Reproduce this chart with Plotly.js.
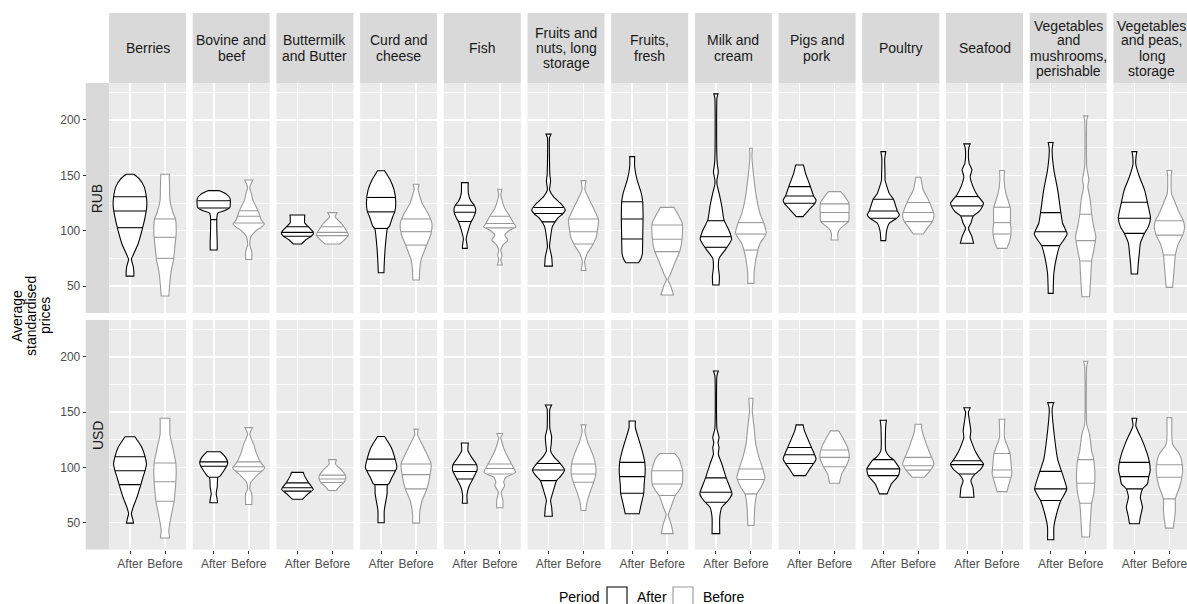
<!DOCTYPE html>
<html><head><meta charset="utf-8">
<script src="https://cdn.plot.ly/plotly-3.0.1.min.js"></script>
<style>html,body{margin:0;padding:0;background:#fff}#chart{width:1187px;height:604px}</style>
</head><body><div id="chart"></div>
<script>
// ---------------- data ----------------
const categories = ["Berries","Bovine and beef","Buttermilk and Butter","Curd and cheese","Fish",
  "Fruits and nuts, long storage","Fruits, fresh","Milk and cream","Pigs and pork","Poultry","Seafood",
  "Vegetables and mushrooms, perishable","Vegetables and peas, long storage"];
const stripLabels = ["Berries","Bovine and\nbeef","Buttermilk\nand Butter","Curd and\ncheese","Fish",
  "Fruits and\nnuts, long\nstorage","Fruits,\nfresh","Milk and\ncream","Pigs and\npork","Poultry","Seafood",
  "Vegetables\nand\nmushrooms,\nperishable","Vegetables\nand peas,\nlong\nstorage"];
const currencies = ["RUB","USD"];
const periods = ["After","Before"];
const yTickVals = [50,100,150,200];
const yMinorVals = [75,125,175,225];
const yTitle = "Average\nstandardised\nprices";
const legendTitle = "Period";

// violin outlines: [price level, half width of density (x units)], top to bottom
const RUB_After = [
 [[151,0.11],[147,0.26],[140,0.40],[130,0.47],[122,0.48],[112,0.43],[100,0.34],[88,0.23],[78,0.09],[74,0.04],[68,0.09],[63,0.11],[59,0.11]],
 [[136.2,0.15],[133,0.36],[129,0.47],[121,0.46],[118,0.30],[116,0.12],[112,0.09],[100,0.09],[90,0.10],[82.5,0.10]],
 [[114.2,0.21],[107,0.21],[104,0.30],[100,0.42],[98,0.46],[95,0.40],[92,0.25],[88,0.12]],
 [[154.2,0.10],[150,0.18],[145.8,0.26],[137,0.37],[125,0.42],[117,0.39],[112.6,0.33],[104,0.24],[102,0.18],[85.5,0.12],[70.4,0.09],[62,0.08]],
 [[143.4,0.095],[134,0.10],[127,0.17],[123,0.27],[119.3,0.31],[116,0.30],[110.7,0.23],[108,0.18],[101.6,0.11],[92.5,0.04],[88,0.06],[84,0.07]],
 [[187.2,0.07],[184,0.03],[160,0.03],[150,0.04],[145,0.06],[140,0.04],[136.8,0.03],[130.8,0.14],[124.8,0.34],[118.7,0.48],[115,0.40],[111.2,0.26],[103.7,0.11],[94.6,0.06],[85.5,0.03],[76.5,0.09],[68,0.11]],
 [[166.9,0.07],[158,0.07],[145.8,0.14],[133.7,0.26],[126,0.30],[111,0.31],[93,0.30],[79.5,0.29],[74,0.24],[71,0.18]],
 [[223.6,0.06],[220,0.03],[170,0.025],[160,0.04],[153,0.07],[146,0.03],[142,0.03],[134,0.09],[122,0.17],[109.7,0.23],[100.6,0.37],[92.2,0.45],[88,0.38],[82.5,0.26],[75,0.09],[67.5,0.07],[58.5,0.10],[50.9,0.09]],
 [[159.4,0.11],[151.8,0.17],[139.8,0.31],[131.3,0.40],[127.8,0.47],[124.8,0.44],[120.3,0.31],[114.2,0.14],[112.7,0.10]],
 [[171.4,0.07],[165,0.04],[150,0.05],[145.8,0.05],[133.7,0.17],[128.4,0.29],[117.8,0.40],[114.2,0.46],[111.2,0.38],[106.7,0.17],[99.2,0.09],[91,0.07]],
 [[178.4,0.09],[176,0.06],[171.4,0.04],[160.9,0.06],[154.9,0.14],[148.9,0.09],[139.8,0.17],[132.3,0.29],[124.8,0.47],[122.4,0.45],[117.2,0.34],[113.3,0.18],[106.7,0.11],[102.2,0.04],[94.6,0.14],[88.6,0.19]],
 [[179.6,0.07],[176,0.05],[172.9,0.04],[154.9,0.09],[136.8,0.20],[116.3,0.29],[106.7,0.34],[97,0.47],[92,0.38],[86.5,0.26],[76.5,0.17],[61.5,0.09],[43.4,0.07]],
 [[171.4,0.07],[168,0.05],[160,0.04],[148.9,0.14],[136.8,0.29],[125.7,0.37],[111.2,0.46],[103.7,0.40],[97.6,0.29],[88.5,0.17],[79.5,0.14],[70.4,0.11],[60.9,0.09]]
];
const RUB_After_q = [[102.7,117.8,130.7],[110,120.5,127],[95,98.5,103.5],[102,117,130],[108.3,116.7,123],
 [108,115.5,121],[92.5,110.6,126.2],[85,94.6,109],[124.8,131.3,139.8],[111.2,117.8,128.4],[113.3,122.4,130.8],
 [86.5,99,116.3],[97.6,111.2,125.7]];

const RUB_Before = [
 [[151,0.12],[140,0.13],[127.6,0.14],[116,0.23],[110.6,0.30],[98,0.32],[94,0.31],[85,0.28],[75,0.25],[62,0.17],[50,0.13],[41,0.11]],
 [[145.8,0.12],[142,0.06],[139,0.03],[133,0.08],[127.6,0.12],[118.6,0.26],[109.7,0.36],[106,0.45],[103,0.35],[100.5,0.23],[94.5,0.06],[87,0.03],[82,0.08],[79.6,0.09],[74,0.09]],
 [[116.3,0.13],[112.5,0.08],[106.5,0.26],[100,0.40],[96,0.46],[92,0.35],[88,0.21]],
 [[142,0.08],[137,0.06],[125,0.17],[115.7,0.34],[106.7,0.45],[97.6,0.43],[87,0.30],[73.5,0.14],[63,0.10],[55.4,0.095]],
 [[137.4,0.06],[132.4,0.03],[127.8,0.06],[120.3,0.14],[112.8,0.29],[106.5,0.40],[103.5,0.46],[100.6,0.29],[96,0.14],[91.5,0.23],[87,0.09],[82.5,0.03],[78,0.06],[73.5,0.03],[69,0.07]],
 [[145.2,0.07],[137,0.04],[127.8,0.17],[118.7,0.31],[109.7,0.43],[100.6,0.40],[94.6,0.37],[87,0.26],[79.5,0.11],[72,0.03],[64,0.07]],
 [[121.1,0.19],[115.7,0.29],[106.7,0.43],[94.6,0.43],[82.5,0.37],[72,0.23],[60,0.08],[56,0.02],[50,0.10],[41.9,0.18]],
 [[174.5,0.04],[167,0.03],[145.8,0.09],[127.8,0.17],[115.7,0.26],[106.7,0.37],[98.2,0.44],[94,0.38],[88.5,0.26],[82.5,0.20],[73.5,0.14],[61.5,0.09],[52.4,0.09]],
 [[135.3,0.17],[130.8,0.29],[124.8,0.41],[115.7,0.41],[108.2,0.40],[102.2,0.17],[97.6,0.09],[91.6,0.10]],
 [[148.3,0.07],[136.8,0.14],[127.8,0.29],[121.8,0.37],[114.2,0.45],[108,0.40],[103.7,0.29],[98.2,0.17],[97,0.14]],
 [[154.3,0.07],[145.8,0.06],[133.7,0.11],[124.8,0.20],[120.3,0.24],[106.7,0.24],[100.6,0.26],[91.6,0.23],[84,0.14]],
 [[203.7,0.06],[200,0.03],[157.9,0.03],[145.8,0.09],[139.8,0.06],[127.8,0.13],[114.8,0.17],[103.7,0.23],[94.6,0.29],[82.5,0.23],[72.6,0.17],[55.4,0.14],[40.3,0.11]],
 [[154.3,0.07],[150,0.05],[133.7,0.06],[124.8,0.17],[115.7,0.29],[109,0.40],[102.2,0.43],[96,0.38],[88.5,0.26],[78,0.17],[67.4,0.14],[55.4,0.11],[48.8,0.09]]
];
const RUB_Before_q = [[75,94,110.6],[107,113,118],[95.5,98.5,103.5],[87,99.1,110.6],[102.5,106.5,113],
 [88,99,110.6],[81.1,92.2,105.2],[82.5,97,107.3],[108.2,116.4,124.2],[108.2,116.4,125.4],[97,107.3,121.2],
 [72.6,91,114.8],[78,96,109]];

const USD_After = [
 [[127.7,0.14],[118,0.34],[109.6,0.43],[103,0.47],[97,0.43],[91,0.37],[84.4,0.31],[73,0.20],[64,0.09],[58,0.04],[53,0.08],[49.5,0.10]],
 [[114.2,0.19],[109,0.34],[104.5,0.40],[101,0.37],[97,0.29],[92,0.18],[91,0.12],[82,0.10],[76,0.07],[71,0.10],[68,0.11]],
 [[95.5,0.17],[92.5,0.20],[86.5,0.31],[80,0.45],[76,0.30],[71.2,0.15]],
 [[128,0.10],[118,0.29],[107.5,0.40],[100,0.45],[91,0.31],[85,0.22],[84.4,0.18],[76,0.17],[61,0.09],[49.9,0.09]],
 [[122,0.10],[115,0.09],[107.5,0.23],[102.4,0.34],[97.5,0.35],[89.5,0.23],[82,0.11],[74.5,0.06],[67.5,0.07]],
 [[156.5,0.09],[153,0.04],[135,0.04],[128,0.09],[122,0.08],[115,0.06],[109,0.17],[104.4,0.31],[97.6,0.46],[92,0.35],[88,0.23],[79,0.14],[70,0.06],[64,0.09],[55.8,0.11]],
 [[142,0.09],[136,0.09],[121,0.23],[112,0.31],[104.5,0.36],[95.5,0.37],[84,0.34],[76.6,0.33],[67,0.26],[58,0.20]],
 [[187.2,0.07],[183,0.03],[135,0.03],[127,0.09],[122,0.06],[118,0.09],[112,0.07],[103,0.17],[91,0.29],[82,0.40],[76,0.46],[70,0.35],[64,0.17],[55,0.11],[40,0.11]],
 [[138.5,0.10],[133,0.14],[118,0.34],[111.4,0.43],[107.5,0.47],[103.5,0.40],[98.5,0.29],[92.5,0.17]],
 [[142.7,0.09],[138,0.07],[115,0.07],[109,0.20],[107,0.29],[98.6,0.47],[92.5,0.43],[85,0.23],[76,0.11]],
 [[154,0.09],[149.7,0.04],[142,0.07],[133,0.11],[127,0.09],[115,0.23],[107.5,0.37],[103,0.47],[98,0.38],[94,0.23],[88,0.11],[82,0.17],[73,0.20]],
 [[158.6,0.09],[155,0.05],[152,0.04],[127,0.11],[107,0.20],[96.4,0.31],[80.5,0.46],[75,0.38],[70,0.29],[58,0.17],[46,0.09],[34.5,0.09]],
 [[144.5,0.07],[137.5,0.04],[124,0.23],[112,0.37],[104.5,0.43],[97,0.45],[91.6,0.41],[85,0.37],[80.5,0.23],[73,0.17],[64,0.23],[55,0.17],[49,0.14]]
];
const USD_After_q = [[84.4,97,109.6],[91,101,105],[78.5,81.5,86],[84.4,97,107.5],[89.5,96.3,102.4],
 [88,97.6,103.5],[76.6,91.6,104.5],[68.4,77.5,90.5],[103.5,111.4,118],[92.5,98.6,107],[94,102.5,106],
 [70,80.5,96.4],[80.5,91.6,104.5]];

const USD_Before = [
 [[144.5,0.14],[130,0.14],[121,0.20],[104,0.31],[97,0.32],[87,0.31],[79,0.29],[69.3,0.26],[55,0.17],[43,0.11],[36,0.13]],
 [[136,0.11],[133,0.06],[130,0.03],[121,0.14],[112,0.23],[104.5,0.34],[99.5,0.46],[96,0.35],[92.5,0.23],[86.5,0.06],[80.5,0.03],[76,0.09],[66.4,0.09]],
 [[107,0.11],[103,0.09],[98.6,0.23],[93,0.37],[89.6,0.38],[86,0.32],[82.5,0.20],[79,0.11]],
 [[134.6,0.06],[129.5,0.04],[121,0.17],[112,0.31],[103,0.43],[93.4,0.40],[80.5,0.31],[70,0.17],[58,0.10],[49.5,0.10]],
 [[130.7,0.09],[127,0.03],[115,0.14],[104.4,0.31],[95.5,0.45],[91,0.17],[86.5,0.11],[83.5,0.14],[77.5,0.04],[70,0.09],[63.4,0.09]],
 [[138.5,0.07],[133,0.04],[121,0.14],[112,0.26],[103,0.34],[94,0.35],[86.5,0.29],[76,0.17],[67,0.09],[61,0.07]],
 [[112.6,0.21],[107.5,0.34],[97,0.44],[85,0.43],[79,0.34],[74.5,0.23],[64,0.11],[57,0.03],[49,0.11],[40,0.17]],
 [[162.6,0.06],[151,0.04],[136,0.09],[121,0.14],[109,0.23],[98.5,0.34],[91,0.40],[82,0.29],[76,0.17],[64,0.11],[47.4,0.09]],
 [[133,0.12],[127,0.23],[118,0.37],[109,0.42],[100.6,0.32],[94,0.20],[85.6,0.14]],
 [[139,0.09],[133,0.11],[121,0.23],[112,0.34],[103,0.45],[97,0.34],[91,0.17]],
 [[143.6,0.08],[127,0.07],[118,0.17],[112.6,0.23],[103,0.26],[94,0.28],[85,0.20],[78,0.14]],
 [[196,0.06],[192,0.03],[139,0.03],[130,0.11],[115,0.17],[107,0.23],[97,0.26],[88,0.26],[76,0.23],[67.5,0.17],[55,0.14],[37,0.11]],
 [[145,0.07],[121,0.09],[112,0.29],[102.4,0.37],[94,0.37],[82,0.29],[71.5,0.17],[61,0.17],[52,0.14],[45,0.11]]
];
const USD_Before_q = [[69.3,87,104],[96.5,100.5,105],[86.3,89.5,93],[80.5,93.4,103],[94,99,103],
 [86.5,94,103],[74.5,85,97],[76,89,98.5],[100.6,109,115.7],[97.5,101.5,109],[91,97.6,112.6],
 [67.5,85.6,107],[71.5,91,102.4]];

const violins = {RUB:{After:[RUB_After,RUB_After_q],Before:[RUB_Before,RUB_Before_q]},
                 USD:{After:[USD_After,USD_After_q],Before:[USD_Before,USD_Before_q]}};

// ---------------- geometry & style ----------------
const W = 1187, H = 604;
const FONT = "Liberation Sans, Arial, Helvetica, sans-serif";
const panelX0 = 109, pitch = 83.7, panelW = 77;
const stripTop = 13, stripBot = 83;
const rowsPx = [[83,313],[320,549.5]];
const rowStripX = [85.7,109];
const xUnits = 2.2, xStart = 0.4;
const yRange = [25.65, 233.4];
const lineColor = {After:"#000000", Before:"#999999"};
const fx = px => px / W;
const fy = py => 1 - py / H;

function widthAt(prof, v){
  for (let i=0;i<prof.length-1;i++){
    const a=prof[i], b=prof[i+1];
    if (v<=a[0] && v>=b[0]){ const t=(a[0]-v)/(a[0]-b[0]); return a[1]+(b[1]-a[1])*t; }
  }
  return 0;
}

const traces = [];
const layout = {
  width: W, height: H, autosize: false,
  margin: {l:0,r:0,t:0,b:0},
  paper_bgcolor: "#ffffff", plot_bgcolor: "#EBEBEB",
  font: {family: FONT, size: 12, color: "#4D4D4D"},
  showlegend: false, shapes: [], annotations: []
};

currencies.forEach((cur, r) => {
  categories.forEach((cat, c) => {
    const k = r*13 + c + 1;
    const L = panelX0 + pitch*c;
    const R = Math.min(W, L + panelW);
    const xr = [xStart, xStart + xUnits*(R-L)/panelW];
    layout["xaxis"+k] = {
      domain:[fx(L), fx(R)], range: xr, anchor: "y"+k,
      tickmode:"array", tickvals:[1,2], ticktext: periods, ticklabeloverflow:"allow",
      showticklabels: r===1, ticks: r===1 ? "outside" : "", ticklen: 3, tickwidth: 1, tickcolor:"#333333",
      tickfont:{size:12,color:"#4D4D4D",family:FONT},
      showgrid:true, gridcolor:"#ffffff", gridwidth:1.6, zeroline:false, showline:false, fixedrange:true
    };
    const ya = {
      domain:[fy(rowsPx[r][1]), fy(rowsPx[r][0])], range: yRange,
      tickmode:"array", tickvals: yTickVals,
      showticklabels: c===0, ticks: c===0 ? "outside" : "", ticklen: 3, tickwidth: 1, tickcolor:"#333333",
      tickfont:{size:12,color:"#4D4D4D",family:FONT},
      showgrid:true, gridcolor:"#ffffff", gridwidth:1.6, zeroline:false, showline:false, fixedrange:true,
      minor:{tickmode:"array", tickvals:yMinorVals, showgrid:true, gridcolor:"#ffffff", gridwidth:0.8, ticks:""}
    };
    if (c===0){ ya.anchor="free"; ya.position=fx(rowStripX[0]); } else { ya.anchor="x"+k; }
    layout["yaxis"+k] = ya;

    periods.forEach((p, pi) => {
      const prof = violins[cur][p][0][c];
      const qs = violins[cur][p][1][c];
      const cx = pi + 1;
      const n = prof.length;
      const xs = [], ys = [];
      // right side top->bottom (end points doubled to keep flat ends square)
      xs.push(cx+prof[0][1]); ys.push(prof[0][0]);
      prof.forEach(([v,w]) => { xs.push(cx+w); ys.push(v); });
      xs.push(cx+prof[n-1][1]); ys.push(prof[n-1][0]);
      xs.push(cx-prof[n-1][1]); ys.push(prof[n-1][0]);
      for (let i=n-1;i>=0;i--){ xs.push(cx-prof[i][1]); ys.push(prof[i][0]); }
      xs.push(cx-prof[0][1]); ys.push(prof[0][0]);
      xs.push(cx+prof[0][1]); ys.push(prof[0][0]);
      traces.push({type:"scatter", mode:"lines", x:xs, y:ys, xaxis:"x"+k, yaxis:"y"+k,
        fill:"toself", fillcolor:"#ffffff", line:{color:lineColor[p], width:1.1, shape:"spline", smoothing:0.5},
        hoverinfo:"skip", showlegend:false});
      const qx=[], qy=[];
      qs.forEach(q => { const w = widthAt(prof,q); qx.push(cx-w, cx+w, null); qy.push(q, q, null); });
      traces.push({type:"scatter", mode:"lines", x:qx, y:qy, xaxis:"x"+k, yaxis:"y"+k,
        line:{color:lineColor[p], width:1.1}, hoverinfo:"skip", showlegend:false});
    });

    if (r===0){
      layout.shapes.push({type:"rect", xref:"paper", yref:"paper", x0:fx(L), x1:fx(R), y0:fy(stripBot), y1:fy(stripTop),
        fillcolor:"#D9D9D9", line:{width:0}, layer:"below"});
      const lines = stripLabels[c].split("\n");
      const mid = (stripTop+stripBot)/2, lh = 15;
      lines.forEach((t,i) => {
        const yy = mid + (i - (lines.length-1)/2)*lh;
        layout.annotations.push({text:t, xref:"paper", yref:"paper", x:fx(L+panelW/2), y:fy(yy),
          xanchor:"center", yanchor:"middle", showarrow:false, font:{family:FONT,size:14,color:"#1A1A1A"}});
      });
    }
  });
  layout.shapes.push({type:"rect", xref:"paper", yref:"paper", x0:fx(rowStripX[0]), x1:fx(rowStripX[1]),
    y0:fy(rowsPx[r][1]), y1:fy(rowsPx[r][0]), fillcolor:"#D9D9D9", line:{width:0}, layer:"below"});
  layout.annotations.push({text:cur, xref:"paper", yref:"paper", x:fx((rowStripX[0]+rowStripX[1])/2),
    y:fy((rowsPx[r][0]+rowsPx[r][1])/2), textangle:-90, xanchor:"center", yanchor:"middle", showarrow:false,
    font:{family:FONT,size:14,color:"#1A1A1A"}});
});

// y-axis title (three lines, rotated)
yTitle.split("\n").forEach((t,i) => {
  layout.annotations.push({text:t, xref:"paper", yref:"paper", x:fx(17 + i*14), y:fy(316), textangle:-90,
    xanchor:"center", yanchor:"middle", showarrow:false, font:{family:FONT,size:14,color:"#000000"}});
});

// legend
const legY = 597;
layout.annotations.push({text:legendTitle, xref:"paper", yref:"paper", x:fx(557), y:fy(legY), xanchor:"left", yanchor:"middle",
  showarrow:false, font:{family:FONT,size:14,color:"#000000"}});
const legItems = [[607,635],[673,701]];
periods.forEach((p,i) => {
  layout.shapes.push({type:"rect", xref:"paper", yref:"paper", x0:fx(legItems[i][0]), x1:fx(legItems[i][0]+20),
    y0:fy(legY+10), y1:fy(legY-10), fillcolor:"#ffffff", line:{color:lineColor[p], width:1.1}});
  layout.annotations.push({text:p, xref:"paper", yref:"paper", x:fx(legItems[i][1]), y:fy(legY), xanchor:"left", yanchor:"middle",
    showarrow:false, font:{family:FONT,size:14,color:"#000000"}});
});

Plotly.newPlot("chart", traces, layout, {staticPlot:true, displayModeBar:false});
</script>
</body></html>
